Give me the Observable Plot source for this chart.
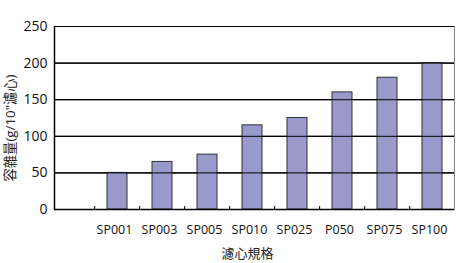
<!DOCTYPE html>
<html><head><meta charset="utf-8">
<script src="https://cdn.jsdelivr.net/npm/d3@7"></script>
<script src="https://cdn.jsdelivr.net/npm/@observablehq/plot@0.6"></script>
<style>body{margin:0;background:#fff}</style>
</head><body><div id="chart"></div>
<script>
const categories = ["SP001","SP003","SP005","SP010","SP025","P050","SP075","SP100"];
const values = [50, 65, 75, 115, 125, 160, 180, 200];
const yTicks = [0, 50, 100, 150, 200, 250];
const gridTicks = [50, 100, 150, 200];
const yTitle = "容雜量(g/10\"濾心)";
const xTitle = "濾心規格";

const data = categories.map((c, i) => ({c, v: values[i]}));
const domain = ["", ...categories];
const font = "'Open Sans', 'Noto Sans CJK TC', sans-serif";

const chart = Plot.plot({
  width: 456, height: 263,
  marginLeft: 54, marginRight: 2, marginTop: 26, marginBottom: 54,
  style: {fontFamily: font, background: "#fff"},
  x: {domain, range: [46.4, 457.7], paddingInner: 0.56, paddingOuter: 0.28, axis: null},
  y: {domain: [0, 250], axis: null},
  marks: [
    Plot.ruleY([250], {stroke: "#888", strokeWidth: 1}),
    Plot.frame({anchor: "right", stroke: "#888"}),
    Plot.ruleY(gridTicks, {stroke: "#000", strokeWidth: 1.3}),
    Plot.barY(data, {x: "c", y: "v", fill: "#9999cc", stroke: "#333", strokeWidth: 1}),
    Plot.ruleY([0], {stroke: "#000", strokeWidth: 1.5}),
    Plot.frame({anchor: "left", stroke: "#000", strokeWidth: 1.5}),
    Plot.ruleX(categories, {x: d => d, y1: 0, y2: 4, dx: -22.85, stroke: "#000"}),
    Plot.tickY(yTicks, {y: d => d, frameAnchor: "left", stroke: "#000"}),
    Plot.text(yTicks, {y: d => d, text: d => String(d), frameAnchor: "left", textAnchor: "end", dx: -7, fontSize: 14, fill: "#111"}),
    Plot.text(categories, {x: d => d, text: d => d, frameAnchor: "bottom", dy: 24, dx: -3, fontSize: 12.5, fill: "#111"}),
    Plot.text([yTitle], {text: d => d, frameAnchor: "left", textAnchor: "middle", rotate: -90, dx: -44, dy: 10, fontSize: 13.3, fill: "#222"}),
    Plot.text([xTitle], {text: d => d, frameAnchor: "bottom", dy: 48, dx: -7, fontSize: 13, fill: "#222"})
  ]
});
document.getElementById("chart").appendChild(chart);
</script>
</body></html>
